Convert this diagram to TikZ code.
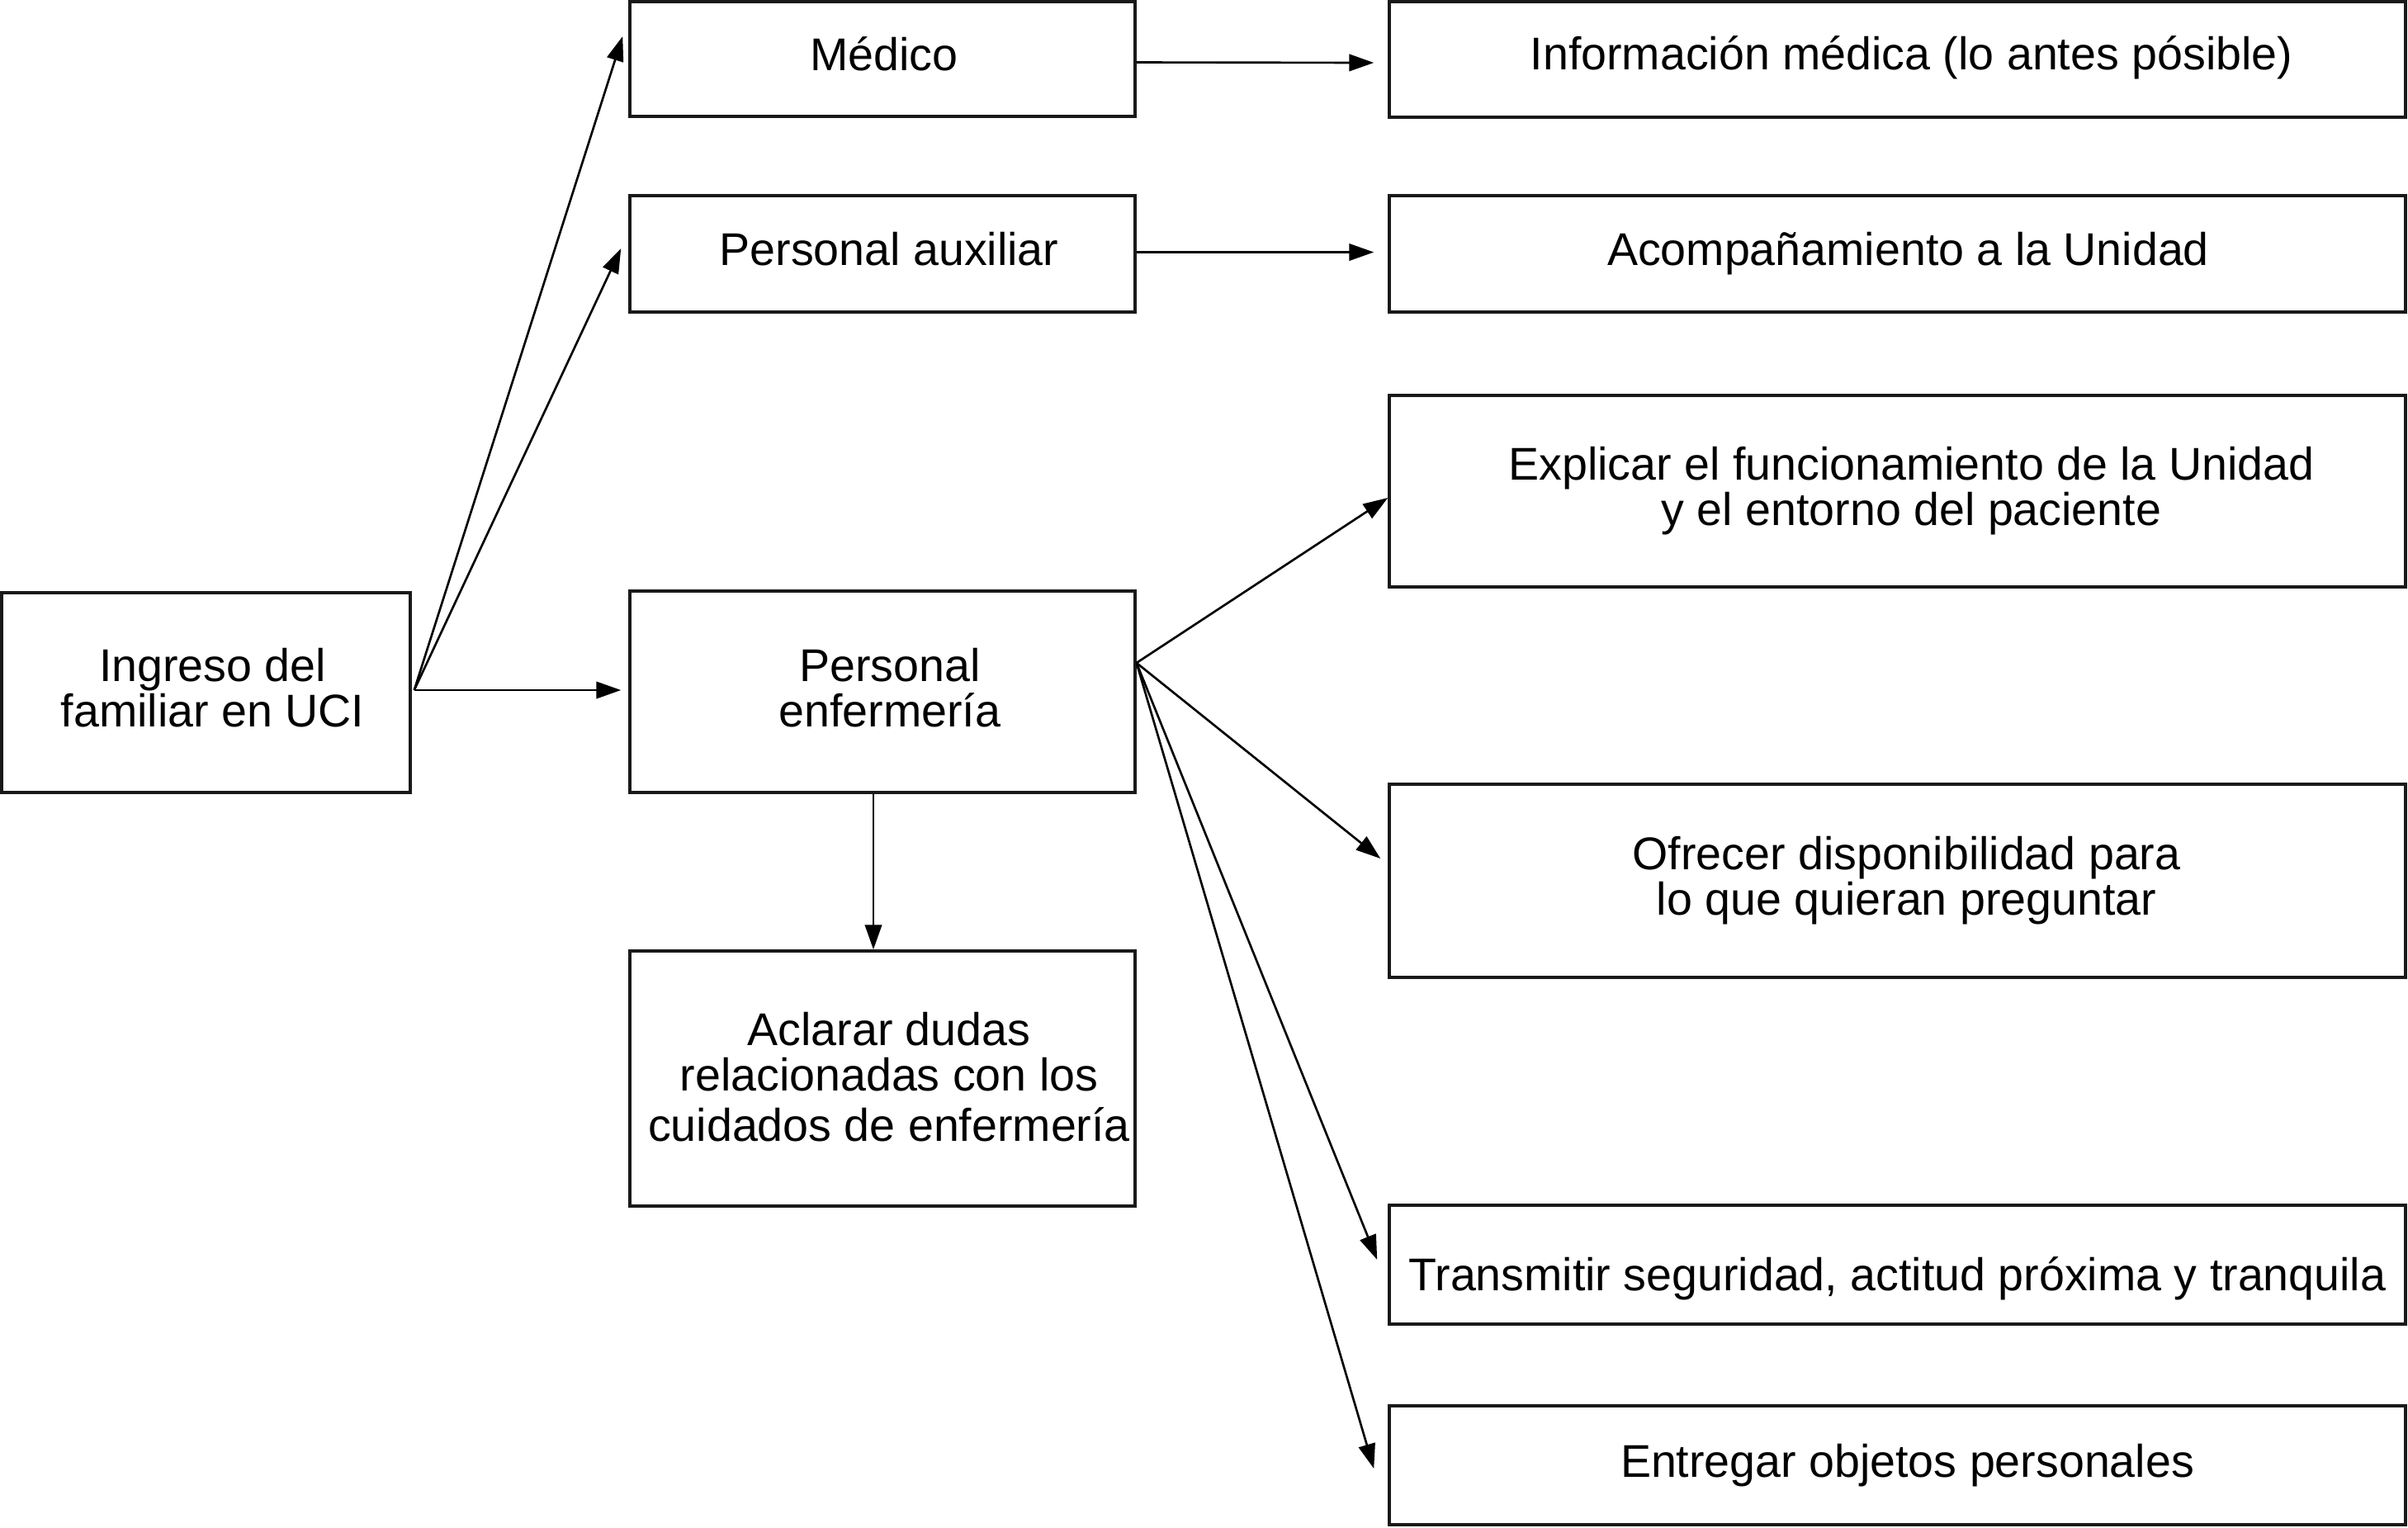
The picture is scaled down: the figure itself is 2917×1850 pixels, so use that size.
\documentclass[tikz,border=0pt]{standalone}
\usepackage{fontspec}
\setmainfont{Liberation Sans}
\usetikzlibrary{arrows.meta,calc}
\begin{document}
\begin{tikzpicture}[x=0.01cm,y=-0.01cm,
  box/.style={draw=black!90, line width=1pt, rectangle, inner sep=0pt},
  txt/.style={inner sep=0pt, align=center, font=\fontsize{15.8}{15.6}\selectfont},
  arr/.style={line width=0.75pt, -{Triangle[length=8.5pt,width=5.8pt]}}]
\useasboundingbox (0,0) rectangle (2917,1850);
% left column
\node[box, minimum width=495*0.01cm, minimum height=242*0.01cm] (ing) at (249.5,839) {};
% middle column
\node[box, minimum width=612*0.01cm, minimum height=139*0.01cm] (med) at (1069,71.5) {};
\node[box, minimum width=612*0.01cm, minimum height=141*0.01cm] (aux) at (1069,307.5) {};
\node[box, minimum width=612*0.01cm, minimum height=244*0.01cm] (enf) at (1069,838) {};
\node[box, minimum width=612*0.01cm, minimum height=309*0.01cm] (acl) at (1069,1306.5) {};
% right column
\node[box, minimum width=1231*0.01cm, minimum height=140*0.01cm] (inf) at (2298.5,72) {};
\node[box, minimum width=1231*0.01cm, minimum height=141*0.01cm] (aco) at (2298.5,307.5) {};
\node[box, minimum width=1231*0.01cm, minimum height=232*0.01cm] (exp) at (2298.5,595) {};
\node[box, minimum width=1231*0.01cm, minimum height=234*0.01cm] (ofr) at (2298.5,1067) {};
\node[box, minimum width=1231*0.01cm, minimum height=144*0.01cm] (tra) at (2298.5,1532) {};
\node[box, minimum width=1231*0.01cm, minimum height=144*0.01cm] (ent) at (2298.5,1775) {};
% texts
\node[txt] (ingt) at ($(ing.center)+(8,-6)$) {Ingreso del\\familiar en UCI};
\node[txt] (medt) at ($(med.center)+(2,-6)$) {M\'edico};
\node[txt] (auxt) at ($(aux.center)+(8,-6)$) {Personal auxiliar};
\node[txt] (enft) at ($(enf.center)+(9,-5)$) {Personal\\enfermer\'ia};
\node[txt] (aclt) at ($(acl.center)+(8,-2)$) {Aclarar dudas\\relacionadas con los\\[1.7pt]cuidados de enfermer\'ia};
\node[txt] (inft) at ($(inf.center)+(17,-2)$) {Informaci\'on m\'edica (lo antes p\'osible)};
\node[txt] (acot) at ($(aco.center)+(13,0)$) {Acompa\~namiento a la Unidad};
\node[txt] (expt) at ($(exp.center)+(17,0)$) {Explicar el funcionamiento de la Unidad\\y el entorno del paciente};
\node[txt] (ofrt) at ($(ofr.center)+(11,0)$) {Ofrecer disponibilidad para\\lo que quieran preguntar};
\node[txt] (trat) at ($(tra.center)+(0,17)$) {Transmitir seguridad, actitud pr\'oxima y tranquila};
\node[txt] (entt) at ($(ent.center)+(12,0)$) {Entregar objetos personales};
% connectors
\coordinate (src) at ($(ing.east)+(3,-3)$);
\draw[arr] (src) -- ($(med.west)+(-7,-27.5)$);
\draw[arr] (src) -- ($(aux.west)+(-9,-6.5)$);
\draw[arr] (src) -- ($(enf.west)+(-9,-2)$);
\draw[arr] ($(med.east)+(0,4)$) -- ($(inf.west)+(-17,4)$);
\draw[arr] ($(aux.east)+(0,-2)$) -- ($(aco.west)+(-17,-2)$);
\coordinate (fan) at ($(enf.east)+(0,-35)$);
\draw[arr] (fan) -- ($(exp.west)+(0,8)$);
\draw[arr] (fan) -- ($(ofr.west)+(-9,-27)$);
\draw[arr] (fan) -- ($(tra.west)+(-13,-6)$);
\draw[arr] (fan) -- ($(ent.west)+(-17,4)$);
\draw[arr] ($(enf.south)+(-11,0)$) -- ($(acl.north)+(-11,0)$);
\end{tikzpicture}
\end{document}
